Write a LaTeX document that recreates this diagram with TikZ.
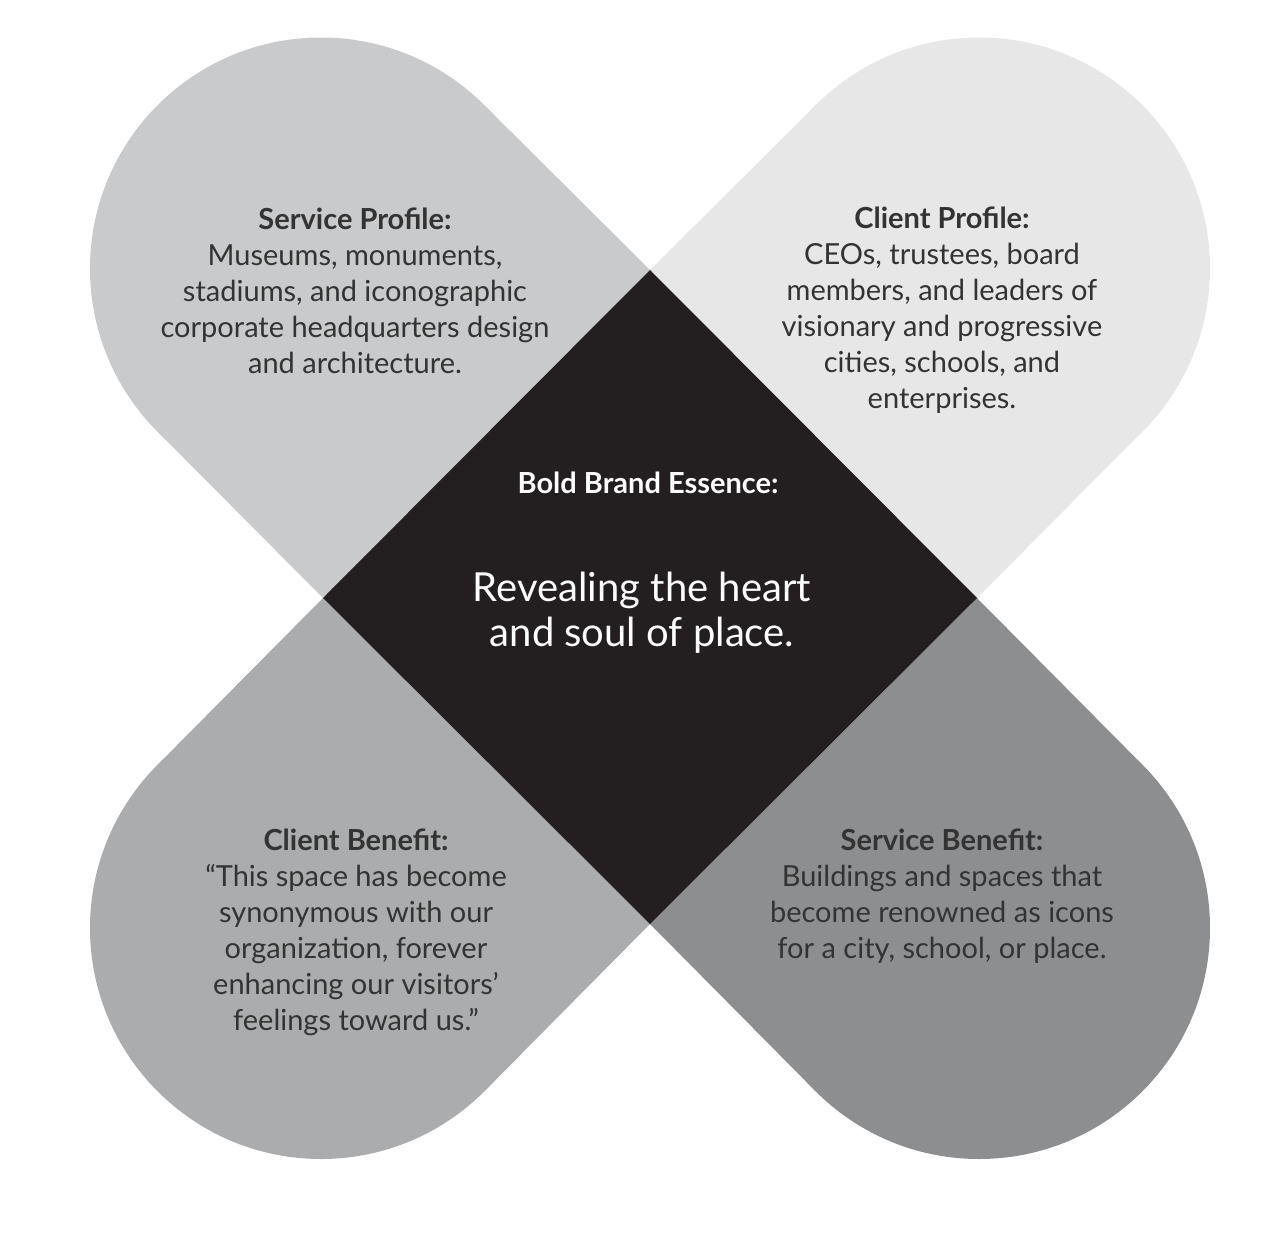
\documentclass[tikz,border=0pt]{standalone}
\usepackage{fontspec}
\setmainfont{Lato}
\definecolor{ctl}{HTML}{C9CACB}
\definecolor{ctr}{HTML}{E7E7E7}
\definecolor{cbl}{HTML}{ABACAD}
\definecolor{cbr}{HTML}{8D8E90}
\definecolor{cdk}{HTML}{231F20}
\definecolor{ctxt}{HTML}{333333}
\begin{document}
\begin{tikzpicture}[x=0.5pt,y=-0.5pt,
  body/.style={align=center,text=ctxt,font=\fontsize{14.5}{18}\selectfont},
  big/.style={align=center,text=white,font=\fontsize{20}{22.5}\selectfont}]
\useasboundingbox (0,0) rectangle (1264,1242);
\fill[white] (0,0) rectangle (1264,1242);
% arms
\fill[ctl] (321,268.5) circle[radius=231];
\fill[ctl] (650,270) -- (484.3,105.2) -- (157.7,431.8) -- (323,598) -- cycle;
\fill[ctr] (979,268.5) circle[radius=231];
\fill[ctr] (650,270) -- (815.7,105.2) -- (1142.3,431.8) -- (977,598) -- cycle;
\fill[cbl] (321,928) circle[radius=231];
\fill[cbl] (650,924) -- (484.3,1091.3) -- (157.7,764.7) -- (323,598) -- cycle;
\fill[cbr] (979,928) circle[radius=231];
\fill[cbr] (650,924) -- (815.7,1091.3) -- (1142.3,764.7) -- (977,598) -- cycle;
\fill[cdk] (650,270) -- (977,598) -- (650,924) -- (323,598) -- cycle;
% texts
\node[body] (sp) at (355,291) {\textbf{Service Profile:}\\Museums, monuments,\\stadiums, and iconographic\\corporate headquarters design\\and architecture.};
\node[body] (cp) at (942,310) {\textbf{Client Profile:}\\CEOs, trustees, board\\members, and leaders of\\visionary and progressive\\cities, schools, and\\enterprises.};
\node[body] (cb) at (356,932) {\textbf{Client Benefit:}\\“This space has become\\synonymous with our\\organization, forever\\enhancing our visitors’\\feelings toward us.”};
\node[body] (sb) at (942,896) {\textbf{Service Benefit:}\\Buildings and spaces that\\become renowned as icons\\for a city, school, or place.};
\node[body,text=white] (be) at (648,483) {\textbf{Bold Brand Essence:}};
\node[big] (rv) at (642,613) {Revealing the heart\\and soul of place.};
\end{tikzpicture}
\end{document}
